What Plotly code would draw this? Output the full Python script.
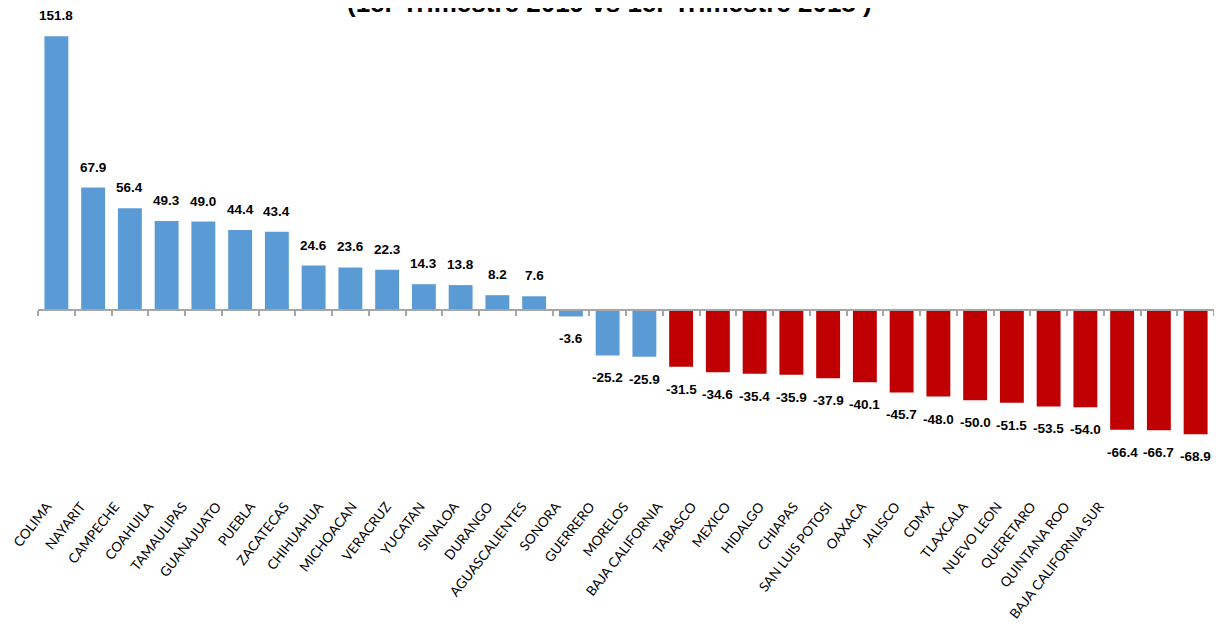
import plotly.graph_objects as go

estados = ["COLIMA", "NAYARIT", "CAMPECHE", "COAHUILA", "TAMAULIPAS", "GUANAJUATO",
           "PUEBLA", "ZACATECAS", "CHIHUAHUA", "MICHOACAN", "VERACRUZ", "YUCATAN",
           "SINALOA", "DURANGO", "AGUASCALIENTES", "SONORA", "GUERRERO", "MORELOS",
           "BAJA CALIFORNIA", "TABASCO", "MEXICO", "HIDALGO", "CHIAPAS",
           "SAN LUIS POTOSI", "OAXACA", "JALISCO", "CDMX", "TLAXCALA", "NUEVO LEON",
           "QUERETARO", "QUINTANA ROO", "BAJA CALIFORNIA SUR"]
variacion = [151.8, 67.9, 56.4, 49.3, 49.0, 44.4, 43.4, 24.6, 23.6, 22.3, 14.3, 13.8,
             8.2, 7.6, -3.6, -25.2, -25.9, -31.5, -34.6, -35.4, -35.9, -37.9, -40.1,
             -45.7, -48.0, -50.0, -51.5, -53.5, -54.0, -66.4, -66.7, -68.9]
n_azul = 17  # first 17 states in blue, rest in red

colores = ["#5B9BD5" if i < n_azul else "#C00000" for i in range(len(estados))]
idx = list(range(len(estados)))
n = len(estados)

ymin, ymax = -102.6, 160.8

fig = go.Figure()
fig.add_trace(go.Bar(x=idx, y=variacion, marker_color=colores, width=0.65,
                     marker_line_width=0, showlegend=False, hoverinfo="skip"))
# invisible trace on the axis used only for the rotated state labels
fig.add_trace(go.Scatter(x=idx, y=[0] * n, xaxis="x3", mode="none",
                         showlegend=False, hoverinfo="skip"))
# dummy trace to display the zero line axis
fig.add_trace(go.Scatter(x=[0], y=[0], xaxis="x2", mode="none", showlegend=False,
                         hoverinfo="skip"))

for i, v in enumerate(variacion):
    fig.add_annotation(x=i, y=v, text=f"<b>{v:.1f}</b>", showarrow=False,
                       yanchor="bottom" if v >= 0 else "top",
                       yshift=11 if v >= 0 else -13,
                       font=dict(family="Liberation Sans, Arial", size=13.5, color="black"))

fig.add_annotation(xref="paper", yref="paper", x=0.486, y=1, yanchor="bottom",
                   yshift=0, showarrow=False,
                   text="<b>(1er Trimestre 2019 vs 1er Trimestre 2018 )</b>",
                   font=dict(family="Liberation Sans, Arial", size=26, color="black"))

zero_pos = (0 - ymin) / (ymax - ymin)

fig.update_layout(
    width=1206, height=617,
    margin=dict(l=30, r=0, t=12, b=130, autoexpand=False),
    plot_bgcolor="rgba(0,0,0,0)", paper_bgcolor="white",
    xaxis=dict(range=[-0.5, n - 0.5], showticklabels=False,
               showgrid=False, zeroline=False, showline=False, automargin=False),
    xaxis2=dict(overlaying="x", anchor="free", position=zero_pos,
                showline=True, linecolor="#A6A6A6", linewidth=1.5,
                ticks="outside", tickcolor="#A6A6A6", ticklen=5, tickwidth=1.5,
                tickmode="array", tickvals=[i - 0.5 for i in range(n + 1)],
                showticklabels=False, showgrid=False, zeroline=False,
                range=[-0.5, n - 0.5], automargin=False),
    xaxis3=dict(anchor="free", position=0, domain=[0, 0.9167],
                range=[-0.263, n - 0.5], tickmode="array", tickvals=idx,
                ticktext=estados, tickangle=-52, ticks="", showline=False,
                showgrid=False, zeroline=False, automargin=False,
                ticklabelstandoff=0, ticklabeloverflow="allow",
                tickfont=dict(family="Lato, Noto Sans", size=13.5, color="black")),
    yaxis=dict(range=[ymin, ymax], visible=False, showgrid=False, zeroline=False,
               automargin=False),
)

fig.write_html("out.html")
